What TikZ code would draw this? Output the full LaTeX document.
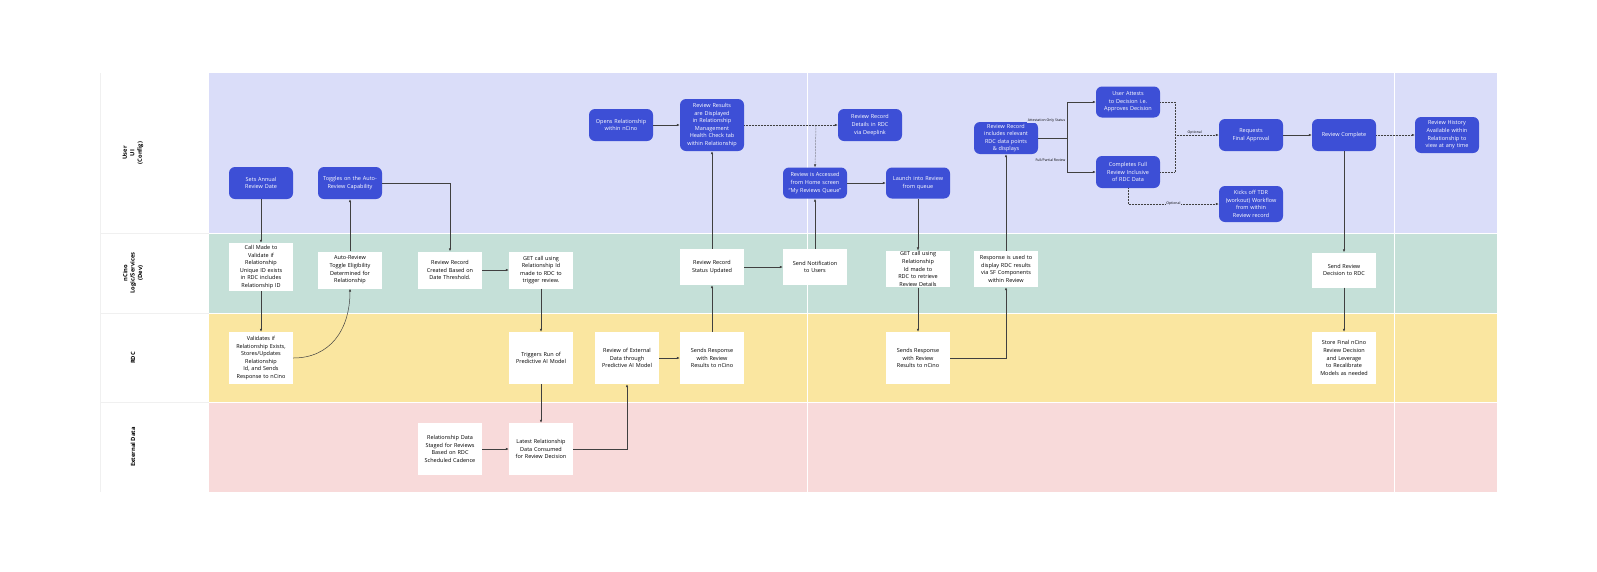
\documentclass[tikz,border=0pt]{standalone}
\usepackage{fontspec}
\setmainfont{Open Sans}
\usetikzlibrary{arrows.meta}
\definecolor{bnode}{RGB}{61,79,214}
\definecolor{laneU}{RGB}{218,221,249}
\definecolor{laneN}{RGB}{197,224,216}
\definecolor{laneR}{RGB}{250,230,160}
\definecolor{laneE}{RGB}{248,218,218}
\begin{document}
\hyphenpenalty=10000
\tolerance=10000
\begin{tikzpicture}[x=1pt,y=-1pt,
  base/.style={minimum width=64pt,align=center,inner sep=1pt,font=\fontsize{5.5}{7.6}\selectfont},
  ui/.style={base,rounded corners=6pt,fill=bnode,text=white,text width=54pt},
  wb/.style={base,fill=white,text=black,text width=54pt},
  ar/.style={-{Latex[length=3pt,width=2.5pt]},line width=0.5pt,draw=black!75},
  dar/.style={ar,densely dotted},
  lab/.style={font=\fontsize{3.5}{4}\selectfont,fill=laneU,inner sep=0.5pt},
  lane/.style={font=\bfseries\fontsize{5.8}{7.4}\selectfont,rotate=90,align=center}]
\useasboundingbox (0,0) rectangle (1597,571);
\fill[white] (0,0) rectangle (1597,571);
\fill[laneU] (209,73) rectangle (1497,233);
\fill[laneN] (209,233) rectangle (1497,313);
\fill[laneR] (209,313) rectangle (1497,402);
\fill[laneE] (209,402) rectangle (1497,492);
\draw[white,line width=0.8pt] (807,73) -- (807,492) (1394,73) -- (1394,492)
  (209,233) -- (1497,233) (209,313) -- (1497,313) (209,402) -- (1497,402);
\draw[black!6,line width=0.5pt] (100,233) -- (209,233) (100,313) -- (209,313) (100,402) -- (209,402) (100,73)--(100,492);
\node[lane] (lu) at (133,153) {User\\UI\\(Config)};
\node[lane] (ln) at (133,273) {nCino\\Logic/Services\\(Dev)};
\node[lane] (lr) at (133,358) {RDC};
\node[lane] (le) at (133,447) {External Data};
% user lane
\node[ui,minimum height=32pt] (setdate) at (261,183) {Sets Annual Review Date};
\node[ui,minimum height=32pt] (toggle) at (350,183) {Toggles on the Auto-Review Capability};
\node[ui,minimum height=32pt] (opens) at (621,125) {Opens Relationship within nCino};
\node[ui,minimum height=52pt,text width=52pt] (results) at (712,125) {Review Results are Displayed in Relationship Management Health Check tab within Relationship};
\node[ui,minimum height=32pt] (deeplink) at (870,125) {Review Record Details in RDC via Deeplink};
\node[ui,minimum height=31pt] (accessed) at (815,183) {Review is Accessed from Home screen ``My Reviews Queue''};
\node[ui,minimum height=31pt] (launch) at (918,183) {Launch into Review from queue};
\node[ui,minimum height=32pt] (rrecord) at (1006,138) {Review Record includes relevant RDC data points \& displays};
\node[ui,minimum height=31pt] (attests) at (1128,102) {User Attests to Decision i.e. Approves Decision};
\node[ui,minimum height=32pt] (completes) at (1128,172) {Completes Full Review Inclusive of RDC Data};
\node[ui,minimum height=32pt] (reqfinal) at (1251,135) {Requests Final Approval};
\node[ui,minimum height=36pt] (kicks) at (1251,204) {Kicks off TDR (workout) Workflow from within Review record};
\node[ui,minimum height=32pt] (complete) at (1344,135) {Review Complete};
\node[ui,minimum height=36pt] (history) at (1447,135) {Review History Available within Relationship to view at any time};
% nCino lane
\node[wb,minimum height=48pt,text width=50pt] (callmade) at (261,267) {Call Made to Validate if Relationship Unique ID exists in RDC includes Relationship ID};
\node[wb,minimum height=37pt] (autotog) at (350,270) {Auto-Review Toggle Eligibility Determined for Relationship};
\node[wb,minimum height=37pt] (rrcreated) at (450,270) {Review Record Created Based on Date Threshold.};
\node[wb,minimum height=37pt] (getcall1) at (541,270) {GET call using Relationship Id made to RDC to trigger review.};
\node[wb,minimum height=36pt] (rrstatus) at (712,267) {Review Record Status Updated};
\node[wb,minimum height=36pt] (sendnotif) at (815,267) {Send Notification to Users};
\node[wb,minimum height=36pt] (getcall2) at (918,269) {GET call using Relationship Id made to RDC to retrieve Review Details};
\node[wb,minimum height=36pt] (response) at (1006,269) {Response is used to display RDC results via SF Components within Review};
\node[wb,minimum height=35pt] (sendrdc) at (1344,270) {Send Review Decision to RDC};
% RDC lane
\node[wb,minimum height=52pt,text width=50pt] (validates) at (261,358) {Validates if Relationship Exists, Stores/Updates Relationship Id, and Sends Response to nCino};
\node[wb,minimum height=52pt] (triggers) at (541,358) {Triggers Run of Predictive AI Model};
\node[wb,minimum height=52pt] (revext) at (627,358) {Review of External Data through Predictive AI Model};
\node[wb,minimum height=52pt] (sends1) at (712,358) {Sends Response with Review Results to nCino};
\node[wb,minimum height=52pt] (sends2) at (918,358) {Sends Response with Review Results to nCino};
\node[wb,minimum height=52pt] (store) at (1344,358) {Store Final nCino Review Decision and Leverage to Recalibrate Models as needed};
% External lane
\node[wb,minimum height=52pt] (staged) at (450,449) {Relationship Data Staged for Reviews Based on RDC Scheduled Cadence};
\node[wb,minimum height=52pt] (latest) at (541,449) {Latest Relationship Data Consumed for Review Decision};
% connectors
\draw[ar] (setdate) -- (callmade);
\draw[ar] (callmade) -- (validates);
\draw[ar] (validates.east) .. controls (330,358) and (350,330) .. (autotog.south);
\draw[ar] (autotog) -- (toggle);
\draw[ar] (toggle.east) -| (rrcreated.north);
\draw[ar] (rrcreated) -- (getcall1);
\draw[ar] (getcall1) -- (triggers);
\draw[ar] (triggers) -- (latest);
\draw[ar] (staged) -- (latest);
\draw[ar] (latest.east) -| (revext.south);
\draw[ar] (revext) -- (sends1);
\draw[ar] (sends1) -- (rrstatus);
\draw[ar] (rrstatus) -- (results);
\draw[ar] (rrstatus) -- (sendnotif);
\draw[ar] (opens) -- (results);
\draw[dar] (results) -- (deeplink);
\coordinate (rj) at (816,125);
\draw[dar] (rj) -- (accessed.north);
\draw[ar] (sendnotif) -- (accessed);
\draw[ar] (accessed) -- (launch);
\draw[ar] (launch) -- (getcall2);
\draw[ar] (getcall2) -- (sends2);
\draw[ar] (sends2.east) -| (response.south);
\draw[ar] (response) -- (rrecord);
\coordinate (br) at (1067,138);
\draw[line width=0.5pt,draw=black!75] (rrecord.east) -- (br);
\draw[ar] (br) |- (attests.west);
\draw[ar] (br) |- (completes.west);
\node[lab,anchor=east] (l1) at (1066,121) {Attestation Only Status};
\node[lab,anchor=east] (l2) at (1066,160) {Full/Partial Review};
\coordinate (mj) at (1175,135);
\draw[densely dotted,line width=0.5pt,draw=black!75] (attests.east) -| (mj) (completes.east) -| (mj);
\draw[dar] (mj) -- node[lab,above=0pt,pos=0.45] {Optional} (reqfinal);
\draw[dar] (completes.south) |- node[lab,pos=0.75] {Optional} (kicks.west);
\draw[ar] (reqfinal) -- (complete);
\draw[dar] (complete) -- (history);
\draw[ar] (complete) -- (sendrdc);
\draw[ar] (sendrdc) -- (store);
\end{tikzpicture}
\end{document}
